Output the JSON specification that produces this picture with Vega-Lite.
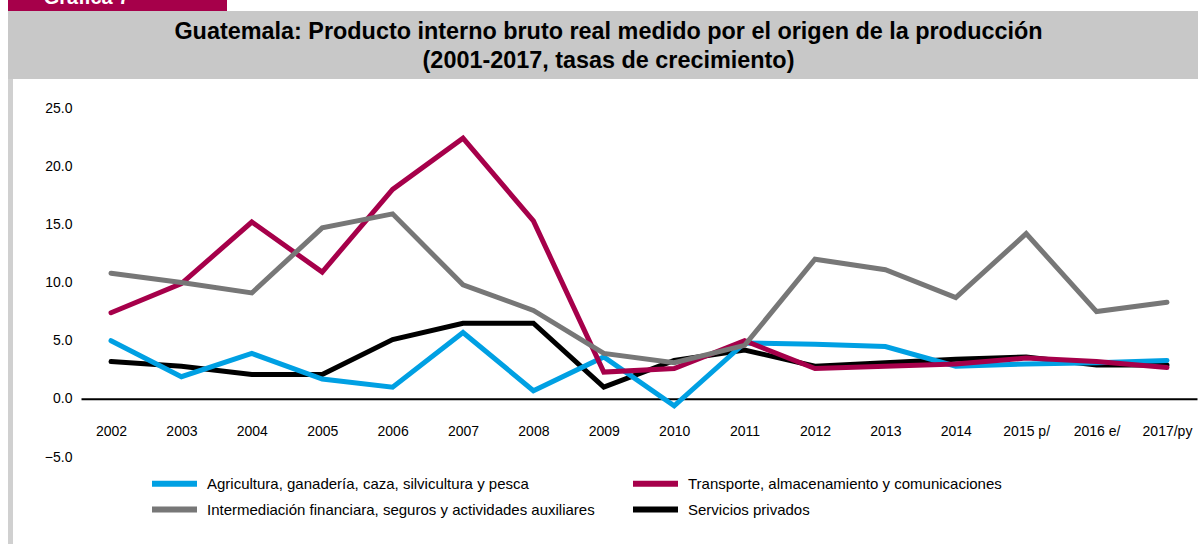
{
  "$schema": "https://vega.github.io/schema/vega-lite/v6.json",
  "padding": {"left": 7, "top": 0, "right": 0, "bottom": 0},
  "background": "white",
  "spacing": 0,
  "bounds": "flush",
  "config": {"view": {"stroke": null}, "font": "Liberation Sans", "concat": {"spacing": 0}},
  "vconcat": [
    {
      "width": 219,
      "height": 11,
      "view": {"fill": "#a6004a", "stroke": null},
      "data": {"values": [{"etiqueta": "Gráfica 7"}]},
      "mark": {"type": "text", "clip": true, "color": "white", "font": "Liberation Sans", "fontWeight": "bold", "fontSize": 20, "baseline": "alphabetic", "align": "center", "dx": -31, "dy": -1.5},
      "encoding": {"text": {"field": "etiqueta"}}
    },
    {
      "width": 1191,
      "height": 68,
      "view": {"fill": "#c8c8c8", "stroke": null},
      "data": {"values": [
        {"linea": 1, "texto": "Guatemala: Producto interno bruto real medido por el origen de la producción"},
        {"linea": 2, "texto": "(2001-2017, tasas de crecimiento)"}
      ]},
      "mark": {"type": "text", "fontWeight": "bold", "fontSize": 23.4, "color": "#000", "font": "Liberation Sans", "dx": 5, "dy": 1.5},
      "encoding": {
        "y": {"field": "linea", "type": "ordinal", "axis": null, "scale": {"padding": 0.714}},
        "text": {"field": "texto"}
      }
    },
    {
      "spacing": 0,
      "bounds": "flush",
      "hconcat": [
        {
          "width": 5,
          "height": 465,
          "view": {"fill": "#d0d0d0", "stroke": null},
          "data": {"values": [{}]},
          "mark": {"type": "point", "opacity": 0},
          "encoding": {}
        },
        {
          "width": 1186,
          "height": 465,
          "data": {"values": [
            {"anio": "2002", "serie": "Servicios privados", "valor": 3.2},
            {"anio": "2003", "serie": "Servicios privados", "valor": 2.8},
            {"anio": "2004", "serie": "Servicios privados", "valor": 2.1},
            {"anio": "2005", "serie": "Servicios privados", "valor": 2.1},
            {"anio": "2006", "serie": "Servicios privados", "valor": 5.1},
            {"anio": "2007", "serie": "Servicios privados", "valor": 6.5},
            {"anio": "2008", "serie": "Servicios privados", "valor": 6.5},
            {"anio": "2009", "serie": "Servicios privados", "valor": 1.0},
            {"anio": "2010", "serie": "Servicios privados", "valor": 3.3},
            {"anio": "2011", "serie": "Servicios privados", "valor": 4.2},
            {"anio": "2012", "serie": "Servicios privados", "valor": 2.8},
            {"anio": "2013", "serie": "Servicios privados", "valor": 3.1},
            {"anio": "2014", "serie": "Servicios privados", "valor": 3.4},
            {"anio": "2015 p/", "serie": "Servicios privados", "valor": 3.6},
            {"anio": "2016 e/", "serie": "Servicios privados", "valor": 2.9},
            {"anio": "2017/py", "serie": "Servicios privados", "valor": 2.9},
            {"anio": "2002", "serie": "Agricultura, ganadería, caza, silvicultura y pesca", "valor": 5.0},
            {"anio": "2003", "serie": "Agricultura, ganadería, caza, silvicultura y pesca", "valor": 1.9},
            {"anio": "2004", "serie": "Agricultura, ganadería, caza, silvicultura y pesca", "valor": 3.9},
            {"anio": "2005", "serie": "Agricultura, ganadería, caza, silvicultura y pesca", "valor": 1.7},
            {"anio": "2006", "serie": "Agricultura, ganadería, caza, silvicultura y pesca", "valor": 1.0},
            {"anio": "2007", "serie": "Agricultura, ganadería, caza, silvicultura y pesca", "valor": 5.7},
            {"anio": "2008", "serie": "Agricultura, ganadería, caza, silvicultura y pesca", "valor": 0.7},
            {"anio": "2009", "serie": "Agricultura, ganadería, caza, silvicultura y pesca", "valor": 3.6},
            {"anio": "2010", "serie": "Agricultura, ganadería, caza, silvicultura y pesca", "valor": -0.6},
            {"anio": "2011", "serie": "Agricultura, ganadería, caza, silvicultura y pesca", "valor": 4.8},
            {"anio": "2012", "serie": "Agricultura, ganadería, caza, silvicultura y pesca", "valor": 4.7},
            {"anio": "2013", "serie": "Agricultura, ganadería, caza, silvicultura y pesca", "valor": 4.5},
            {"anio": "2014", "serie": "Agricultura, ganadería, caza, silvicultura y pesca", "valor": 2.8},
            {"anio": "2015 p/", "serie": "Agricultura, ganadería, caza, silvicultura y pesca", "valor": 3.0},
            {"anio": "2016 e/", "serie": "Agricultura, ganadería, caza, silvicultura y pesca", "valor": 3.1},
            {"anio": "2017/py", "serie": "Agricultura, ganadería, caza, silvicultura y pesca", "valor": 3.3},
            {"anio": "2002", "serie": "Transporte, almacenamiento y comunicaciones", "valor": 7.4},
            {"anio": "2003", "serie": "Transporte, almacenamiento y comunicaciones", "valor": 9.9},
            {"anio": "2004", "serie": "Transporte, almacenamiento y comunicaciones", "valor": 15.2},
            {"anio": "2005", "serie": "Transporte, almacenamiento y comunicaciones", "valor": 10.9},
            {"anio": "2006", "serie": "Transporte, almacenamiento y comunicaciones", "valor": 18.0},
            {"anio": "2007", "serie": "Transporte, almacenamiento y comunicaciones", "valor": 22.4},
            {"anio": "2008", "serie": "Transporte, almacenamiento y comunicaciones", "valor": 15.3},
            {"anio": "2009", "serie": "Transporte, almacenamiento y comunicaciones", "valor": 2.3},
            {"anio": "2010", "serie": "Transporte, almacenamiento y comunicaciones", "valor": 2.6},
            {"anio": "2011", "serie": "Transporte, almacenamiento y comunicaciones", "valor": 5.0},
            {"anio": "2012", "serie": "Transporte, almacenamiento y comunicaciones", "valor": 2.6},
            {"anio": "2013", "serie": "Transporte, almacenamiento y comunicaciones", "valor": 2.8},
            {"anio": "2014", "serie": "Transporte, almacenamiento y comunicaciones", "valor": 3.0},
            {"anio": "2015 p/", "serie": "Transporte, almacenamiento y comunicaciones", "valor": 3.5},
            {"anio": "2016 e/", "serie": "Transporte, almacenamiento y comunicaciones", "valor": 3.2},
            {"anio": "2017/py", "serie": "Transporte, almacenamiento y comunicaciones", "valor": 2.7},
            {"anio": "2002", "serie": "Intermediación financiara, seguros y actividades auxiliares", "valor": 10.8},
            {"anio": "2003", "serie": "Intermediación financiara, seguros y actividades auxiliares", "valor": 10.0},
            {"anio": "2004", "serie": "Intermediación financiara, seguros y actividades auxiliares", "valor": 9.1},
            {"anio": "2005", "serie": "Intermediación financiara, seguros y actividades auxiliares", "valor": 14.7},
            {"anio": "2006", "serie": "Intermediación financiara, seguros y actividades auxiliares", "valor": 15.9},
            {"anio": "2007", "serie": "Intermediación financiara, seguros y actividades auxiliares", "valor": 9.8},
            {"anio": "2008", "serie": "Intermediación financiara, seguros y actividades auxiliares", "valor": 7.6},
            {"anio": "2009", "serie": "Intermediación financiara, seguros y actividades auxiliares", "valor": 3.9},
            {"anio": "2010", "serie": "Intermediación financiara, seguros y actividades auxiliares", "valor": 3.1},
            {"anio": "2011", "serie": "Intermediación financiara, seguros y actividades auxiliares", "valor": 4.6},
            {"anio": "2012", "serie": "Intermediación financiara, seguros y actividades auxiliares", "valor": 12.0},
            {"anio": "2013", "serie": "Intermediación financiara, seguros y actividades auxiliares", "valor": 11.1},
            {"anio": "2014", "serie": "Intermediación financiara, seguros y actividades auxiliares", "valor": 8.7},
            {"anio": "2015 p/", "serie": "Intermediación financiara, seguros y actividades auxiliares", "valor": 14.2},
            {"anio": "2016 e/", "serie": "Intermediación financiara, seguros y actividades auxiliares", "valor": 7.5},
            {"anio": "2017/py", "serie": "Intermediación financiara, seguros y actividades auxiliares", "valor": 8.3}
          ]},
          "mark": {"type": "line", "strokeWidth": 5, "strokeCap": "round"},
          "encoding": {
            "x": {
              "field": "anio",
              "type": "ordinal",
              "scale": {"domain": ["2002","2003","2004","2005","2006","2007","2008","2009","2010","2011","2012","2013","2014","2015 p/","2016 e/","2017/py"], "range": [68, 1184], "padding": 0.4265},
              "axis": {"title": null, "orient": "bottom", "offset": -145.2, "domain": true, "domainColor": "#000000", "domainWidth": 2, "ticks": false, "tickSize": 0, "labelPadding": 26, "labelAngle": 0, "labelFontSize": 14, "labelFont": "Liberation Sans", "labelColor": "#000000", "grid": false}
            },
            "y": {
              "field": "valor",
              "type": "quantitative",
              "scale": {"domain": [-5, 25], "range": [378, 29], "nice": false, "zero": false},
              "axis": {"title": null, "values": [-5, 0, 5, 10, 15, 20, 25], "format": ".1f", "offset": -68, "domain": false, "ticks": false, "tickSize": 0, "labelPadding": 9, "grid": false, "labelFontSize": 14, "labelFont": "Liberation Sans", "labelColor": "#000000"}
            },
            "color": {
              "field": "serie",
              "type": "nominal",
              "scale": {
                "domain": ["Agricultura, ganadería, caza, silvicultura y pesca", "Intermediación financiara, seguros y actividades auxiliares", "Transporte, almacenamiento y comunicaciones", "Servicios privados"],
                "range": ["#00a0e3", "#777777", "#a6004a", "#000000"]
              },
              "legend": {
                "title": null,
                "orient": "none",
                "legendX": 156,
                "legendY": 473,
                "columns": 2,
                "symbolType": "M-3,0H3",
                "symbolSize": 225,
                "symbolStrokeWidth": 6,
                "labelFontSize": 15,
                "labelFont": "Liberation Sans",
                "labelColor": "#000000",
                "labelLimit": 600,
                "columnPadding": 26,
                "rowPadding": 1,
                "labelOffset": 22,
                "padding": 0
              }
            }
          }
        }
      ]
    }
  ]
}
